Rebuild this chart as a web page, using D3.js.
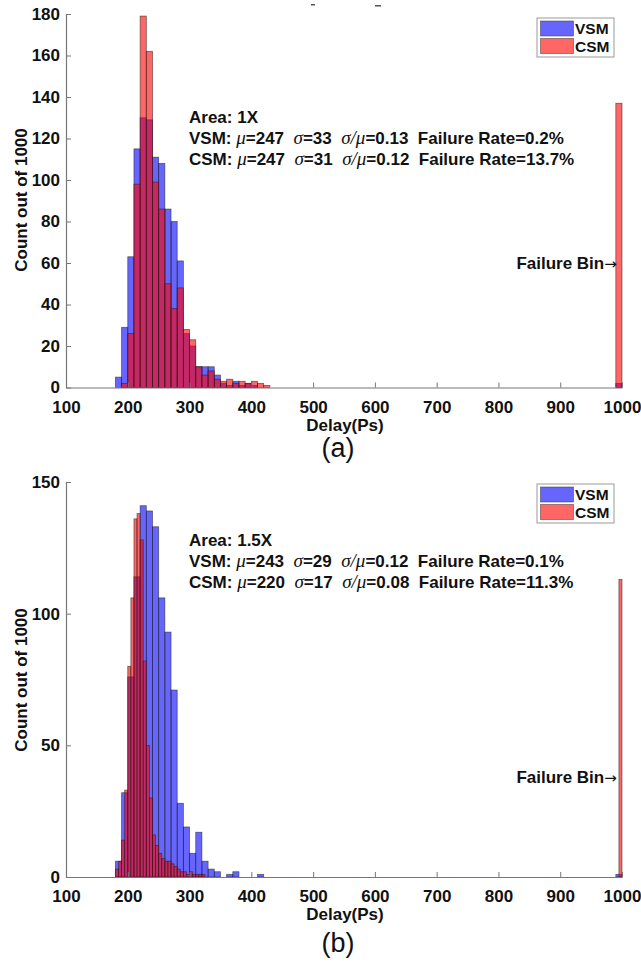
<!DOCTYPE html>
<html><head><meta charset="utf-8">
<script src="https://cdn.jsdelivr.net/npm/d3@7"></script>
<style>
body{margin:0;background:#fff;}
svg{display:block;}
text{font-family:"Liberation Sans",Arial,sans-serif;}
</style></head><body>
<svg id="chart" width="641" height="964"></svg>
<script>
// ---- data -------------------------------------------------------------
const delayTicks = [100,200,300,400,500,600,700,800,900,1000];
const countTicksA = [0,20,40,60,80,100,120,140,160,180];
const countTicksB = [0,50,100,150];

// panel (a): both models binned at 10 ps starting at 180 ps
const binStartA = 180, vsmBinA = 10, csmBinA = 10;
const vsmCountsA = [5,29,63,115,130,129,111,108,86,80,61,26,20,10,10,10,6,2,1,3,1,2,1];
const csmCountsA = [0,2,26,98,179,162,99,86,50,38,48,28,23,10,6,8,4,3,4,2,3,2,3,2,1];

// panel (b): VSM binned at 10 ps, CSM at 5 ps, starting at 180 ps
const binStartB = 180, vsmBinB = 10, csmBinB = 5;
const vsmCountsB = [6,32,76,114,141,139,133,106,93,71,28,19,9,17,6,3,2,0,1,2,0,0,0,1];
const csmCountsB = [3,6,14,33,80,106,136,138,128,82,50,30,16,12,9,7,6,6,5,4,3,2,2,1,2,1,1,1,1];

// runs that never settle are collected in the last bin before 1000 ps
const failureVsm = [2, 1];
const failureCsm = [137, 113];

const areaLabels = ["Area: 1X", "Area: 1.5X"];
// [mean, sigma, sigma/mean, failure rate]
const vsmStats = [[247,33,"0.13","0.2%"],[243,29,"0.12","0.1%"]];
const csmStats = [[247,31,"0.12","13.7%"],[220,17,"0.08","11.3%"]];
const seriesNames = ["VSM","CSM"];
const captions = ["(a)","(b)"];

// ---- drawing ----------------------------------------------------------
const svg = d3.select("#chart");
const x = d3.scaleLinear().domain([100,1000]).range([66,622]);

const FS = "17px";
const BLUE = "#0000ff", RED = "#ff0000";          // drawn at 60% opacity
const BLUE_KEY = "rgb(102,102,255)", RED_KEY = "rgb(255,102,102)";

const panels = [
  { y: d3.scaleLinear().domain([0,180]).range([387.5,14]), ticks: countTicksA,
    vsm: vsmCountsA, csm: csmCountsA, start: binStartA, vsmBin: vsmBinA, csmBin: csmBinA,
    textY: 123, legendY: 18, arrowCount: 60, ylabelY: 200, captionY: 457 },
  { y: d3.scaleLinear().domain([0,150]).range([877,482]), ticks: countTicksB,
    vsm: vsmCountsB, csm: csmCountsB, start: binStartB, vsmBin: vsmBinB, csmBin: csmBinB,
    textY: 546, legendY: 484, arrowCount: 38, ylabelY: 680, captionY: 952 }
];

function bins(counts, start, width, failCount) {
  const out = counts.map((n,i) => ({x0: start + i*width, x1: start + (i+1)*width, n}))
                    .filter(d => d.n > 0);
  out.push({x0: 1000 - width, x1: 1000, n: failCount});
  return out;
}

function drawBars(g, data, y, fill) {
  g.append("g").selectAll("rect").data(data).join("rect")
    .attr("x", d => x(d.x0))
    .attr("width", d => x(d.x1) - x(d.x0))
    .attr("y", d => y(d.n))
    .attr("height", d => y(0) - y(d.n))
    .attr("fill", fill)
    .attr("fill-opacity", 0.6)
    .attr("stroke", "#1a1a1a")
    .attr("stroke-opacity", 0.6)
    .attr("stroke-width", 0.8);
}

function statsLine(t, name, s) {
  const bold = v => t.append("tspan").attr("font-weight","bold").text(v);
  const ital = v => t.append("tspan").attr("font-family","'Liberation Serif',serif")
                     .attr("font-style","italic").attr("font-size","19px").text(v);
  bold(name + ": ");
  ital("\u03bc"); bold("=" + s[0] + "  ");
  ital("\u03c3"); bold("=" + s[1] + "  ");
  ital("\u03c3/\u03bc"); bold("=" + s[2] + "  Failure Rate=" + s[3]);
}

panels.forEach((p, i) => {
  const g = svg.append("g");
  const y = p.y;

  drawBars(g, bins(p.vsm, p.start, p.vsmBin, failureVsm[i]), y, BLUE);
  drawBars(g, bins(p.csm, p.start, p.csmBin, failureCsm[i]), y, RED);

  // axes with inward ticks
  const xa = g.append("g").attr("transform", `translate(0,${y(0)})`)
    .call(d3.axisBottom(x).tickValues(delayTicks).tickFormat(d3.format("d"))
      .tickSizeInner(-5).tickSizeOuter(0).tickPadding(13));
  const ya = g.append("g").attr("transform", `translate(${x(100)},0)`)
    .call(d3.axisLeft(y).tickValues(p.ticks).tickFormat(d3.format("d"))
      .tickSizeInner(-5).tickSizeOuter(0).tickPadding(6));
  [xa, ya].forEach(a => {
    a.select(".domain").attr("stroke", "#777").attr("stroke-width", 1.2);
    a.selectAll(".tick line").attr("stroke", "#777");
    a.selectAll(".tick text").attr("font-family", "'Liberation Sans',Arial,sans-serif")
      .attr("font-size", FS).attr("font-weight", "bold").attr("fill", "#111");
  });

  // axis titles
  g.append("text").attr("x", 345).attr("y", y(0) + 43).attr("text-anchor", "middle")
    .attr("font-size", FS).attr("font-weight", "bold").attr("fill", "#111").text("Delay(Ps)");
  g.append("text").attr("transform", `translate(27,${p.ylabelY}) rotate(-90)`)
    .attr("text-anchor", "middle").attr("font-size", FS).attr("font-weight", "bold")
    .attr("fill", "#111").text("Count out of 1000");

  // caption
  g.append("text").attr("x", 338).attr("y", p.captionY).attr("text-anchor", "middle")
    .attr("font-family", "'Liberation Serif','Times New Roman',serif").attr("font-size", "27px")
    .attr("fill", "#111").text(captions[i]);

  // annotation block
  const tx = 189;
  g.append("text").attr("x", tx).attr("y", p.textY).attr("font-size", FS)
    .attr("font-weight", "bold").attr("fill", "#111").text(areaLabels[i]);
  statsLine(g.append("text").attr("x", tx).attr("y", p.textY + 21).attr("font-size", FS)
    .attr("fill", "#111").attr("xml:space", "preserve").style("white-space", "pre"), seriesNames[0], vsmStats[i]);
  statsLine(g.append("text").attr("x", tx).attr("y", p.textY + 42).attr("font-size", FS)
    .attr("fill", "#111").attr("xml:space", "preserve").style("white-space", "pre"), seriesNames[1], csmStats[i]);

  // failure bin pointer
  const fb = g.append("text").attr("x", x(990) + 1).attr("y", y(p.arrowCount) + 6)
    .attr("text-anchor", "end").attr("font-size", FS).attr("fill", "#111");
  fb.append("tspan").attr("font-weight", "bold").text("Failure Bin");
  fb.append("tspan").attr("font-family", "'DejaVu Sans',sans-serif").attr("font-size", "15px").text("\u2192");

  // legend
  const lg = g.append("g").attr("transform", `translate(537,${p.legendY})`);
  lg.append("rect").attr("width", 77).attr("height", 39).attr("fill", "#fff")
    .attr("stroke", "#999").attr("stroke-width", 1);
  [BLUE_KEY, RED_KEY].forEach((c, k) => {
    lg.append("rect").attr("x", 3.5).attr("y", 3 + k*17.5).attr("width", 33).attr("height", 15)
      .attr("fill", c).attr("stroke", "#333").attr("stroke-opacity", 0.6).attr("stroke-width", 0.8);
    lg.append("text").attr("x", 38).attr("y", 16 + k*18).attr("font-size", "15.5px")
      .attr("font-weight", "bold").attr("fill", "#111").text(seriesNames[k]);
  });
});

// small marks along the top edge
svg.append("g").selectAll("rect").data([[311,4,4],[375,5,6]]).join("rect")
  .attr("x", d => d[0]).attr("y", d => d[1]).attr("width", d => d[2]).attr("height", 1.5)
  .attr("fill", "#555");
</script>
</body></html>
